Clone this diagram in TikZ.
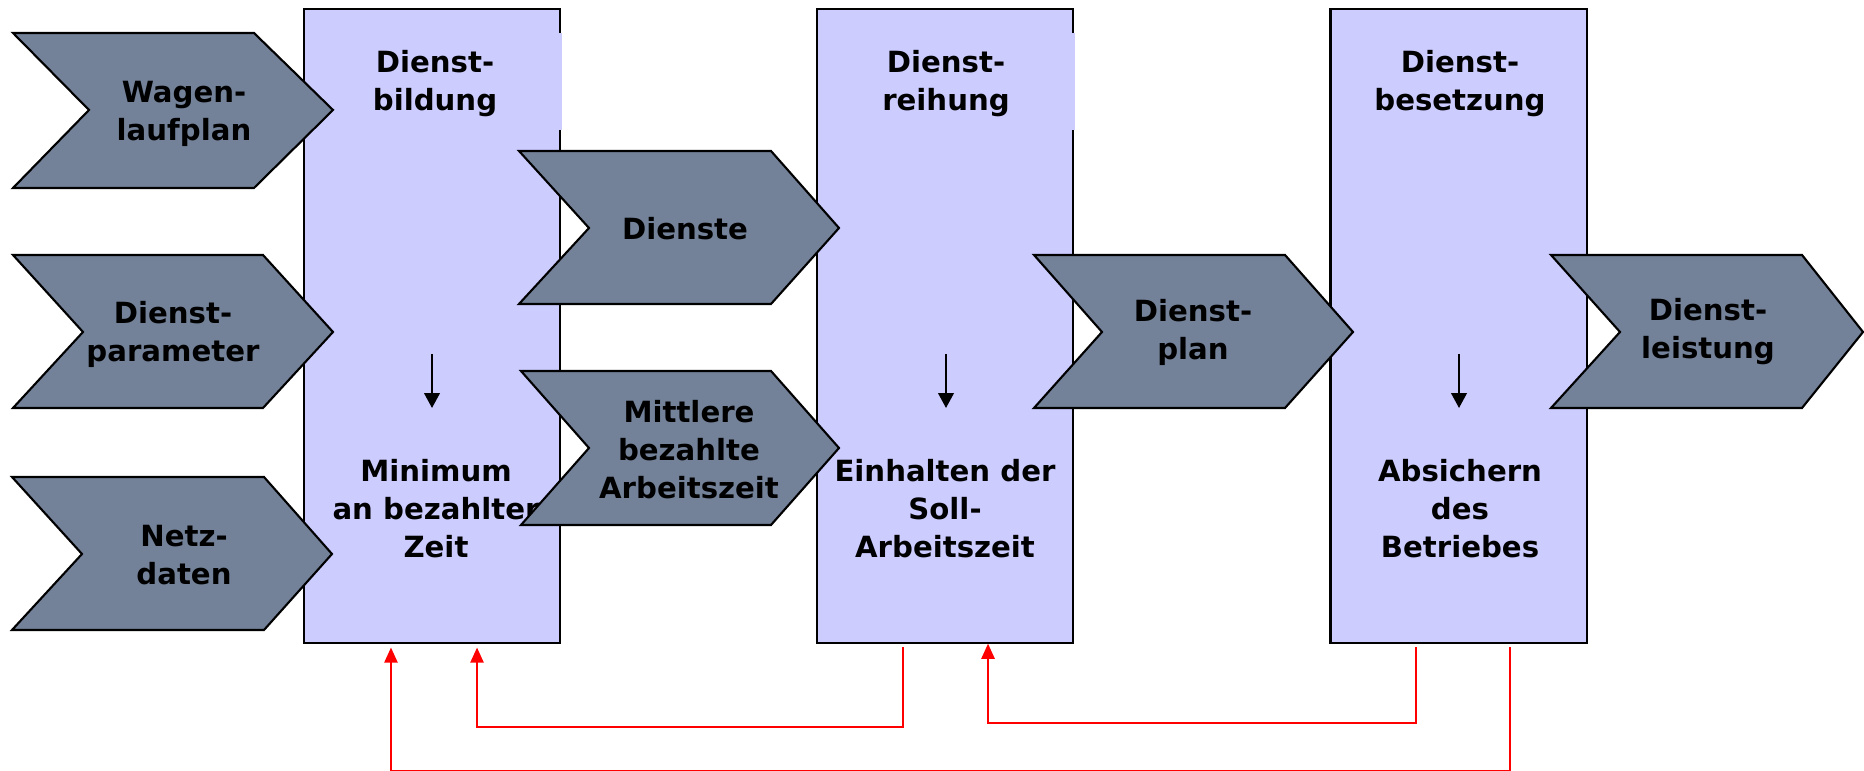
\documentclass[tikz,border=0pt]{standalone}
\usepackage{fontspec}
\setmainfont{DejaVu Sans}
\usetikzlibrary{arrows.meta}
\definecolor{stagefill}{RGB}{204,204,255}
\definecolor{chevfill}{RGB}{115,130,153}

\begin{document}
\begin{tikzpicture}[x=0.01cm,y=-0.01cm,line join=miter,
  font=\fontsize{8.3}{10.8}\selectfont\bfseries,
  stage/.style={draw=black,fill=stagefill,line width=0.6pt,inner sep=0pt,minimum width=2.56cm,minimum height=6.33cm},
  chev/.style={draw=black,fill=chevfill,line width=0.6pt},
  txt/.style={align=center,inner sep=0pt},
  downarrow/.style={-{Triangle[length=4.2pt,width=4.4pt]},line width=0.55pt},
  feedback/.style={red,line width=0.45pt,-{Triangle[length=4.3pt,width=3.8pt]}}]
\useasboundingbox (0,0) rectangle (1864,771);
% the three stages
\node[stage] (dbild) at (432,326) {};
\node[stage] (dreih) at (945,326) {};
\node[stage] (dbes) at (1458.5,326) {};
\fill[stagefill] (558.5,33) rectangle (562,130);
\fill[stagefill] (1071.5,33) rectangle (1075,130);
\node[txt] (tbild) at (435,84) {Dienst-\\bildung};
\node[txt] (tbildlow) at (436,509) {Minimum\\an bezahlter\\Zeit};
\node[txt] (treih) at (946,84) {Dienst-\\reihung};
\node[txt] (treihlow) at (945,509) {Einhalten der\\Soll-\\Arbeitszeit};
\node[txt] (tbes) at (1460,84) {Dienst-\\besetzung};
\node[txt] (tbeslow) at (1460,509) {Absichern\\des\\Betriebes};
\draw[downarrow] (432,354) -- (432,408);
\draw[downarrow] (946,354) -- (946,408);
\draw[downarrow] (1459,354) -- (1459,408);
% inputs and results
\draw[chev] (13,33) -- (254,33) -- (333,110) -- (254,188) -- (13,188) -- (89,110) -- cycle;
\draw[chev] (13,255) -- (263,255) -- (333,332) -- (263,408) -- (13,408) -- (83,332) -- cycle;
\draw[chev] (12,477) -- (264,477) -- (332,554) -- (264,630) -- (12,630) -- (82,554) -- cycle;
\draw[chev] (519,151) -- (771,151) -- (839,228) -- (771,304) -- (519,304) -- (589,228) -- cycle;
\draw[chev] (521,371) -- (771,371) -- (839,448) -- (771,525) -- (521,525) -- (589,448) -- cycle;
\draw[chev] (1034,255) -- (1285,255) -- (1353,332) -- (1285,408) -- (1034,408) -- (1102,332) -- cycle;
\draw[chev] (1551,255) -- (1802,255) -- (1863,332) -- (1802,408) -- (1551,408) -- (1620,332) -- cycle;
\node[txt] (wagen) at (184,114) {Wagen-\\laufplan};
\node[txt] (param) at (173,334) {Dienst-\\parameter};
\node[txt] (netz) at (184,555) {Netz-\\daten};
\node[txt] (dienste) at (685,229) {Dienste};
\node[txt] (mittel) at (689,450) {Mittlere\\bezahlte\\Arbeitszeit};
\node[txt] (dplan) at (1193,332) {Dienst-\\plan};
\node[txt] (dleist) at (1708,332) {Dienst-\\leistung};
% feedback loops
\draw[feedback] ([xshift=-4.2mm,yshift=-1pt]dreih.south) -- ++(0,80) -| ([xshift=4.5mm,yshift=-1.1pt]dbild.south);
\draw[feedback] ([xshift=-4.25mm,yshift=-1pt]dbes.south) -- ++(0,75.5) -| ([xshift=4.3mm]dreih.south);
\draw[feedback] ([xshift=5.15mm,yshift=-1pt]dbes.south) -- ++(0,123.5) -| ([xshift=-4.1mm,yshift=-1.1pt]dbild.south);
\end{tikzpicture}
\end{document}
